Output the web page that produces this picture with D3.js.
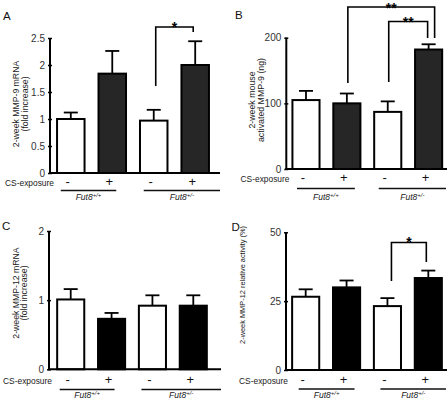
<!DOCTYPE html>
<html><head><meta charset="utf-8">
<script src="https://cdn.jsdelivr.net/npm/d3@7"></script>
<style>body{margin:0;background:#fff}svg{display:block}text{font-family:"Liberation Sans",Arial,sans-serif}</style>
</head><body>
<svg id="c" width="448" height="401"></svg>
<script>
// ---- data ----
const csExposure = ["-", "+", "-", "+"];
const genotypes = ["+/+", "+/-"];
const valuesA = [1.0, 1.84, 0.97, 2.0];
const errorsA = [0.12, 0.42, 0.2, 0.44];
const ticksA = [0, 0.5, 1, 1.5, 2, 2.5];
const valuesB = [105, 100, 87, 182];
const errorsB = [14, 15, 16, 8];
const ticksB = [0, 100, 200];
const valuesC = [1.01, 0.73, 0.92, 0.92];
const errorsC = [0.15, 0.085, 0.15, 0.15];
const ticksC = [0, 1, 2];
const valuesD = [26.6, 30, 23.2, 33.4];
const errorsD = [2.7, 2.5, 2.9, 2.7];
const ticksD = [0, 25, 50];

const svg = d3.select("#c");

function panel(o) {
  const g = svg.append("g");
  const x = d3.scaleBand().domain(d3.range(4)).range([o.ax, o.ax + o.xw])
    .paddingInner(0.337).paddingOuter(o.po);
  const y = d3.scaleLinear().domain(o.domain).range([o.y0, o.y1]);
  const bw = x.bandwidth();
  // bars
  g.selectAll("rect.bar").data(o.values).join("rect")
    .attr("x", (d, i) => x(i)).attr("width", bw)
    .attr("y", d => y(d)).attr("height", d => y(0) - y(d))
    .attr("fill", (d, i) => i % 2 ? o.dark : "#fff")
    .attr("stroke", "#000").attr("stroke-width", 2);
  // error bars
  const eg = g.selectAll("g.err").data(o.values).join("g");
  eg.append("line").attr("x1", (d, i) => x(i) + bw / 2).attr("x2", (d, i) => x(i) + bw / 2)
    .attr("y1", d => y(d)).attr("y2", (d, i) => y(d + o.errors[i]))
    .attr("stroke", "#000").attr("stroke-width", 1.8);
  eg.append("line").attr("x1", (d, i) => x(i) + bw / 2 - 7).attr("x2", (d, i) => x(i) + bw / 2 + 7)
    .attr("y1", (d, i) => y(d + o.errors[i])).attr("y2", (d, i) => y(d + o.errors[i]))
    .attr("stroke", "#000").attr("stroke-width", 1.8);
  // y axis
  const axis = d3.axisLeft(y).tickValues(o.ticks).tickSize(3).tickPadding(2).tickFormat(d => d);
  const ag = g.append("g").attr("transform", `translate(${o.ax},0)`).call(axis);
  ag.select(".domain").remove();
  ag.selectAll(".tick line").attr("stroke", "#000").attr("stroke-width", 1.5).attr("x2", 2).attr("x1", -2);
  ag.selectAll(".tick text").attr("font-size", 10).attr("fill", "#333");
  g.append("line").attr("x1", o.ax).attr("x2", o.ax).attr("y1", y(0) + 1).attr("y2", y(o.domain[1]))
    .attr("stroke", "#000").attr("stroke-width", 2);
  g.append("line").attr("x1", o.ax - 1).attr("x2", o.xEnd).attr("y1", y(0)).attr("y2", y(0))
    .attr("stroke", "#000").attr("stroke-width", 2);
  // y label
  const yl = g.append("text").attr("transform", `translate(${o.ylx},${o.yly}) rotate(-90)`)
    .attr("text-anchor", "middle").attr("font-size", o.ylfs).attr("fill", "#222");
  o.ylabel.forEach((t, k) => yl.append("tspan").attr("x", 0).attr("dy", k ? o.yldy : 0).text(t));
  // panel letter
  g.append("text").attr("x", o.lx).attr("y", o.ly).attr("font-size", 11.5).attr("fill", "#111").text(o.letter);
  // CS-exposure row
  g.append("text").attr("x", o.csx).attr("y", o.csy).attr("text-anchor", "end")
    .attr("font-size", 9).attr("fill", "#222").attr("textLength", 49).attr("lengthAdjust", "spacingAndGlyphs")
    .text("CS-exposure");
  g.selectAll("text.cs").data(csExposure).join("text")
    .attr("x", (d, i) => x(i) + bw / 2 - 3).attr("y", o.csy).attr("text-anchor", "middle")
    .attr("font-size", 13).attr("fill", "#111").text(d => d);
  // genotype underlines and labels
  genotypes.forEach((gt, k) => {
    const x1 = x(2 * k) + bw / 2 - o.ul[0], x2 = k ? o.ul[2] : x(2 * k + 1) + bw / 2 + o.ul[1];
    g.append("line").attr("x1", x1).attr("x2", x2).attr("y1", o.uly).attr("y2", o.uly)
      .attr("stroke", "#111").attr("stroke-width", 1.5);
    const t = g.append("text").attr("x", (x1 + x2) / 2).attr("y", o.gy).attr("text-anchor", "middle")
      .attr("font-size", 8.5).attr("font-style", "italic").attr("fill", "#222");
    t.append("tspan").text("Fut8");
    t.append("tspan").attr("dy", -3).attr("font-size", 6).text(gt);
  });
  // significance brackets
  (o.sig || []).forEach(s => {
    const xa = x(s.a) + bw / 2 + (s.dxa || 0), xb = x(s.b) + bw / 2 + (s.dxb || 0);
    g.append("path").attr("d", `M${xa},${s.ya}V${s.top}H${xb}V${s.yb}`)
      .attr("fill", "none").attr("stroke", "#000").attr("stroke-width", 1.6);
    g.append("text").attr("x", (xa + xb) / 2).attr("y", s.top + s.sy).attr("text-anchor", "middle")
      .attr("font-size", 14).attr("font-weight", "bold").text(s.label);
  });
}

panel({letter: "A", lx: 3, ly: 20, ax: 50, xw: 166, po: 0.17, xEnd: 220, domain: [0, 2.5], y0: 173, y1: 38,
  values: valuesA, errors: errorsA, ticks: ticksA, dark: "#262626",
  ylabel: ["2-week MMP-9 mRNA", "(fold increase)"], ylx: 19, yly: 104, ylfs: 8.7, yldy: 9.3,
  csx: 54, csy: 186, uly: 190.5, gy: 200, ul: [10, 4, 220],
  sig: [{a: 2, b: 3, ya: 86, yb: 32, top: 27, sy: 5, label: "*", dxa: 2, dxb: -2}]});
panel({letter: "B", lx: 235, ly: 19, ax: 286.3, xw: 162, po: 0.15, xEnd: 447, domain: [0, 200], y0: 169, y1: 37.7,
  values: valuesB, errors: errorsB, ticks: ticksB, dark: "#262626",
  ylabel: ["2-week mouse", "activated MMP-9 (ng)"], ylx: 254.8, yly: 100, ylfs: 8.8, yldy: 9,
  csx: 289.5, csy: 182, uly: 188.5, gy: 200, ul: [9, 8, 446],
  sig: [{a: 1, b: 3, ya: 83, yb: 38, top: 7, sy: 5.5, label: "**", dxa: 1, dxb: 6},
        {a: 2, b: 3, ya: 82, yb: 38, top: 21.5, sy: 5, label: "**", dxa: 1, dxb: -1}]});
panel({letter: "C", lx: 2, ly: 230, ax: 49, xw: 166, po: 0.2, xEnd: 221, domain: [0, 2], y0: 369.3, y1: 231,
  values: valuesC, errors: errorsC, ticks: ticksC, dark: "#000",
  ylabel: ["2-week MMP-12 mRNA", "(fold increase)"], ylx: 18.5, yly: 293, ylfs: 8.7, yldy: 8,
  csx: 52, csy: 384, uly: 389.5, gy: 398, ul: [11, 3, 221],
  sig: []});
panel({letter: "D", lx: 231.5, ly: 231, ax: 286, xw: 162, po: 0.15, xEnd: 447, domain: [0, 50], y0: 370, y1: 232.3,
  values: valuesD, errors: errorsD, ticks: ticksD, dark: "#000",
  ylabel: ["2-week MMP-12 relative activity (%)"], ylx: 245, yly: 285, ylfs: 7.4, yldy: 0,
  csx: 288, csy: 384, uly: 389, gy: 398, ul: [7, 8, 446],
  sig: [{a: 2, b: 3, ya: 281, yb: 262, top: 242.5, sy: 4.5, label: "*", dxa: 4, dxb: -2}]});
</script>
</body></html>
